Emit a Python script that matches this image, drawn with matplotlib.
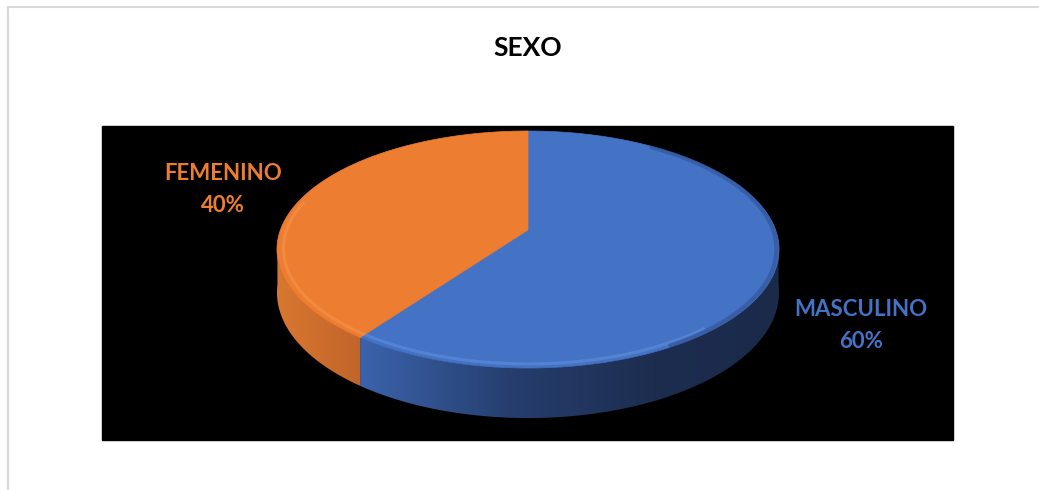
import numpy as np
import matplotlib
matplotlib.use("Agg")
import matplotlib.pyplot as plt
from matplotlib.patches import Polygon, Rectangle
from matplotlib.colors import LinearSegmentedColormap

title = "SEXO"
labels = ["MASCULINO", "FEMENINO"]
values = [60, 40]
top_colors = ["#4472c4", "#ed7d31"]
label_colors = ["#4472c4", "#ed7d31"]

plt.rcParams['font.family'] = ['Lato', 'DejaVu Sans']

fig = plt.figure(figsize=(10.39, 4.90), dpi=100)
ax = fig.add_axes([0, 0, 1, 1])
ax.set_xlim(0, 1039)
ax.set_ylim(490, 0)
ax.axis("off")

# chart frame
ax.plot([8, 1039], [7, 7], color="#d9d9d9", lw=1.5)
ax.plot([8, 8], [7, 490], color="#d9d9d9", lw=1.5)

# plot area
ax.add_patch(Rectangle((102, 126), 851, 314, color="black", zorder=1))

# 3d pie projection (pixel space)
cx, k = 528, 247.6
a, b, c = 77.44, 230.0, -0.1646
depth = 41.8


def proj(phi, dz=0.0, r=1.0):
    u = r * np.sin(phi)
    v = -r * np.cos(phi)
    den = 1 + c * v
    return cx + k * u / den, (a * v + b) / den + depth * dz / den


frac = np.array(values) / sum(values)
bounds = np.concatenate([[0], np.cumsum(frac)]) * 2 * np.pi

# side gradients, left -> right in x
side_cmaps = [
    LinearSegmentedColormap.from_list("bs", [(0, "#3b63ab"), (0.35, "#263f6f"),
                                             (0.7, "#1d2d50"), (1, "#1b2a49")]),
    LinearSegmentedColormap.from_list("os", [(0, "#d8772f"), (1, "#c2652a")]),
]
lo_side, hi_side = np.deg2rad(96), np.deg2rad(264)
for i in range(len(values)):
    lo = max(bounds[i], lo_side)
    hi = min(bounds[i + 1], hi_side)
    if hi <= lo:
        continue
    ang = np.linspace(lo, hi, 200)
    top = [proj(t) for t in ang]
    bot = [proj(t, 1) for t in ang[::-1]]
    poly = Polygon(top + bot, closed=True, facecolor="none", edgecolor="none")
    ax.add_patch(poly)
    xs = np.array([p[0] for p in top + bot])
    ys = np.array([p[1] for p in top + bot])
    x0, x1 = xs.min(), xs.max()
    grad = np.linspace(0, 1, 256).reshape(1, -1)
    if i == 0:
        grad = grad  # blue: lighter at left (cut), darker at right
    im = ax.imshow(grad, cmap=side_cmaps[i], aspect="auto",
                   extent=(x0, x1, ys.max() + 1, ys.min() - 1), zorder=2,
                   interpolation="bilinear")
    im.set_clip_path(poly)
ax.set_xlim(0, 1039)
ax.set_ylim(490, 0)

# top faces
for i in range(len(values)):
    ang = np.linspace(bounds[i], bounds[i + 1], 200)
    pts = [(cx, b)] + [proj(t) for t in ang]
    ax.add_patch(Polygon(pts, closed=True, facecolor=top_colors[i],
                         edgecolor=top_colors[i], lw=0.5, zorder=3))

# bevel highlight on the front rim
hl = ["#6a98e6", "#fa9a52"]
for i in range(len(values)):
    lo = max(bounds[i], np.deg2rad(140))
    hi = min(bounds[i + 1], np.deg2rad(285))
    if hi > lo:
        ang = np.linspace(lo, hi, 100)
        xy = np.array([proj(t, r=0.975) for t in ang])
        ax.plot(xy[:, 0], xy[:, 1], color=hl[i], lw=2.2, alpha=0.45,
                solid_capstyle="butt", zorder=4)
# shade on the right rim
ang = np.linspace(np.deg2rad(35), np.deg2rad(150), 100)
xy = np.array([proj(t, r=0.99) for t in ang])
ax.plot(xy[:, 0], xy[:, 1], color="#1f3a6e", lw=3, alpha=0.35, zorder=4)

# title and labels
ax.text(528, 48, title, ha="center", va="center", fontsize=19,
        fontweight="bold", color="black")
label_pos = [(861, 309, 341), (223, 173, 205)]
for i in range(len(values)):
    x, y1, y2 = label_pos[i]
    ax.text(x, y1, labels[i], ha="center", va="center", fontsize=16,
            fontweight="bold", color=label_colors[i], zorder=5)
    ax.text(x, y2, "%d%%" % values[i], ha="center", va="center", fontsize=16,
            fontweight="bold", color=label_colors[i], zorder=5)

plt.savefig("out.png", dpi=100)
